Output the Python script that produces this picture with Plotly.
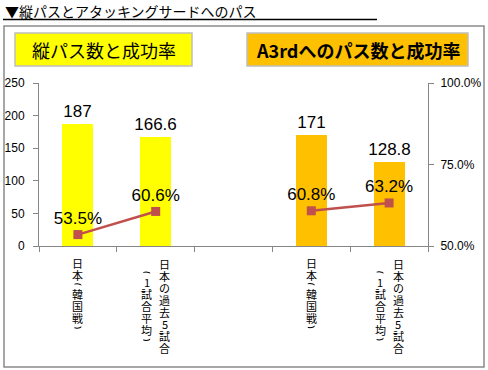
import plotly.graph_objects as go

# ---- data ----
title_text = "▼縦パスとアタッキングサードへのパス"
group_titles = ["縦パス数と成功率", "A3rdへのパス数と成功率"]
categories = ["日本(韓国戦)", "日本の過去5試合(1試合平均)"]
passes_vertical = [187, 166.6]
passes_a3rd = [171, 128.8]
success_vertical = [53.5, 60.6]
success_a3rd = [60.8, 63.2]
left_ticks = [0, 50, 100, 150, 200, 250]
right_ticks = [0.50, 0.75, 1.00]

bar_colors = ["#FFFF00", "#FFC000"]
line_color = "#C0504D"
axis_color = "#868686"
CJK = "Noto Sans CJK JP"
LAT = "Liberation Sans"

W, H = 488, 370
L, R, T, B = 39, 428, 83, 246


def pxx(p):
    return (p - L) / (R - L)


def pxy(p):
    return (B - p) / (B - T)


groups = [(passes_vertical, success_vertical), (passes_a3rd, success_a3rd)]
fig = go.Figure()
for gi, (counts, rates) in enumerate(groups):
    xs = [gi * 3 + ci for ci in range(len(categories))]
    fig.add_trace(go.Bar(
        x=xs, y=counts, width=0.4, marker=dict(color=bar_colors[gi], line=dict(width=0)),
        text=[f"{v:g}" for v in counts], textposition="outside", constraintext="none",
        textfont=dict(family=LAT, size=17, color="#000"), cliponaxis=False,
        showlegend=False, hoverinfo="skip"))
    fig.add_trace(go.Scatter(
        x=xs, y=[r / 100 for r in rates], yaxis="y2", mode="lines+markers+text",
        line=dict(color=line_color, width=2.5),
        marker=dict(symbol="square", size=9, color=line_color),
        text=[f"{r:.1f}%" for r in rates], textposition="top center",
        textfont=dict(family=LAT, size=17, color="#000"), cliponaxis=False,
        showlegend=False, hoverinfo="skip"))

# ---- vertical (stacked) category labels, one annotation per character ----
FULL_ADV, PAREN_ADV = 12, 7


def add_column(anns, x, xshift, s, top=None, center=None):
    advs = [PAREN_ADV if c in "()" else FULL_ADV for c in s]
    total = sum(advs)
    y = top if top is not None else center - total / 2
    for ch, adv in zip(s, advs):
        cy = y + adv / 2
        is_paren = ch in "()"
        ann = dict(
            x=x, y=0, xref="x", yref="paper", text=ch, showarrow=False,
            xanchor="center", yanchor="middle", xshift=xshift, yshift=-(cy - B),
            textangle=90 if is_paren else 0, borderpad=0,
            font=dict(family=LAT if is_paren else CJK, size=11, color="#000"))
        if is_paren:
            ann["width"] = 12
            ann["height"] = adv
        else:
            ann["height"] = adv
        anns.append(ann)
        y += adv


annotations = []
for gi in range(2):
    for ci, cat in enumerate(categories):
        x = gi * 3 + ci
        if "(" in cat and not cat.startswith("日本("):
            main, sub = cat.split("(", 1)
            sub = "(" + sub
            mid = 258 + len(main) * FULL_ADV / 2
            add_column(annotations, x, 9, main, top=258)
            add_column(annotations, x, -9, sub, center=mid)
        else:
            add_column(annotations, x, 0, cat, top=257)

# group title boxes
box_px = [(15, 192), (247, 468)]
for gi, (x0, x1) in enumerate(box_px):
    txt = group_titles[gi] if gi == 0 else "<b>" + group_titles[gi] + "</b>"
    annotations.append(dict(
        x=pxx((x0 + x1) / 2), y=pxy(49.5), xref="paper", yref="paper", text=txt,
        showarrow=False, xanchor="center", yanchor="middle",
        font=dict(family=CJK, size=18, color="#000")))

annotations.append(dict(
    x=pxx(3), y=pxy(11), xref="paper", yref="paper", text=title_text,
    showarrow=False, xanchor="left", yanchor="middle",
    font=dict(family=CJK, size=14, color="#000")))

shapes = [
    dict(type="rect", xref="paper", yref="paper", x0=pxx(4), x1=pxx(484),
         y0=pxy(26), y1=pxy(367), line=dict(color="#8a8a8a", width=1.5), layer="below"),
    dict(type="line", xref="paper", yref="paper", x0=pxx(3), x1=pxx(377),
         y0=pxy(19.5), y1=pxy(19.5), line=dict(color="#000", width=1.5)),
]
for gi, (x0, x1) in enumerate(box_px):
    shapes.append(dict(type="rect", xref="paper", yref="paper", x0=pxx(x0), x1=pxx(x1),
                       y0=pxy(33), y1=pxy(66), fillcolor=bar_colors[gi],
                       line=dict(color="#BFBFBF", width=1.5), layer="below"))

fig.update_layout(
    width=W, height=H, margin=dict(l=L, r=W - R, t=T, b=H - B, autoexpand=False),
    paper_bgcolor="#fff", plot_bgcolor="#fff",
    font=dict(family=LAT, color="#000"),
    xaxis=dict(range=[-0.5, 4.5], tickvals=[-0.5, 0.5, 1.5, 2.5, 3.5, 4.5],
               showticklabels=False, ticks="outside", ticklen=5, tickcolor=axis_color,
               showline=True, linecolor=axis_color, linewidth=1, showgrid=False,
               zeroline=False, fixedrange=True),
    yaxis=dict(range=[0, 250], tickvals=left_ticks, ticks="outside", ticklen=5,
               tickcolor=axis_color, showline=True, linecolor=axis_color, linewidth=1,
               showgrid=False, zeroline=False, tickfont=dict(size=12, color="#000"),
               ticklabelstandoff=6, automargin=False),
    yaxis2=dict(range=[0.5, 1.0], tickvals=right_ticks, tickformat=".1%", overlaying="y",
                side="right", ticks="outside", ticklen=5, tickcolor=axis_color,
                showline=True, linecolor=axis_color, linewidth=1, showgrid=False,
                zeroline=False, tickfont=dict(size=12, color="#000"),
                ticklabelstandoff=4, automargin=False),
    annotations=annotations, shapes=shapes, bargap=0,
)

fig.write_html(
    "out.html",
    config={"displayModeBar": False},
    post_script="document.body.style.margin='0';document.body.style.overflow='hidden';",
)
